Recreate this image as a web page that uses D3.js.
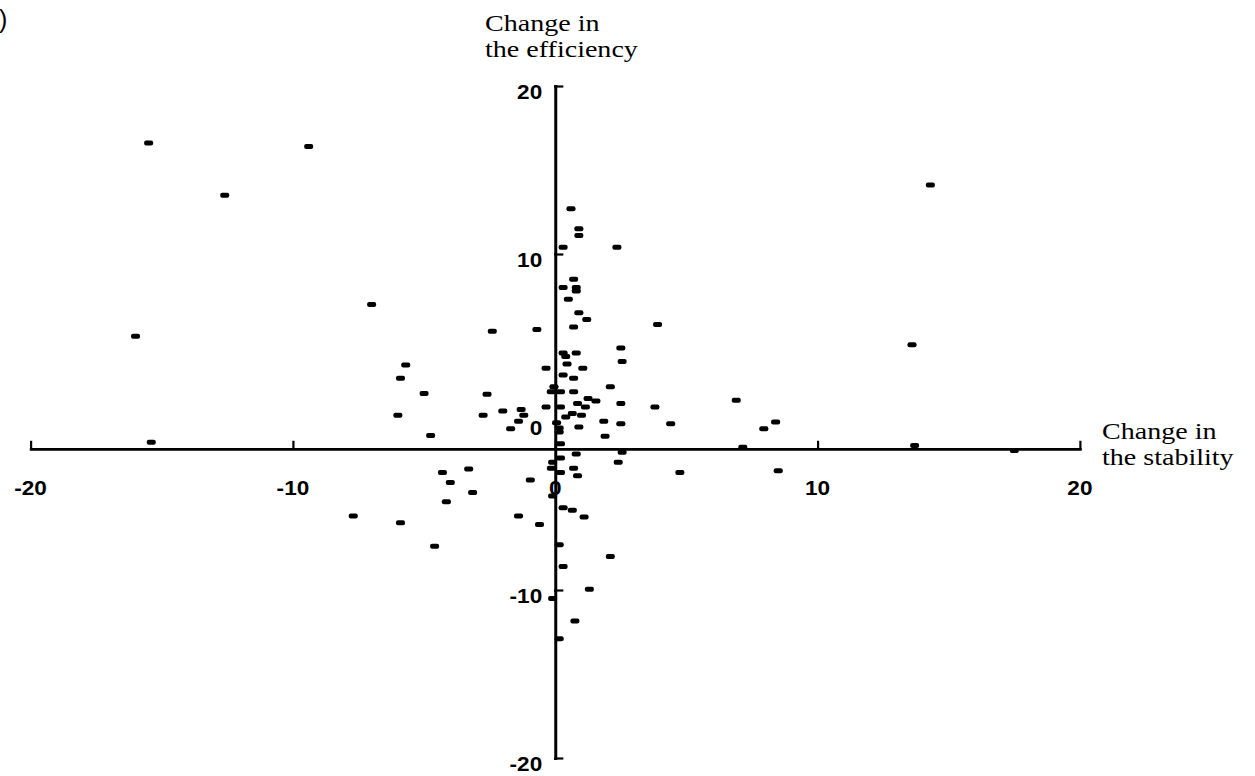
<!DOCTYPE html>
<meta charset="utf-8">
<style>

body {
  margin: 0;
  background: #fff;
}

.axis path, .axis line {
  fill: none;
  stroke: #000;
  stroke-linecap: square;
}

.tick-label {
  font-family: "Liberation Sans", Arial, sans-serif;
  font-weight: bold;
  font-size: 20px;
  fill: #000;
}

.title {
  font-family: "Liberation Serif", "Times New Roman", serif;
  font-size: 23px;
  fill: #000;
}

.point {
  fill: #000;
}

</style>
<body>
<script src="https://d3js.org/d3.v7.min.js"></script>
<script>

var width = 1255;
var height = 776;

// change in the stability (x) and in the efficiency (y), one entry per point
var stability = [
  -15.5, -9.4, -12.6, 14.3, -7.0, -16.0, -5.7, -5.9, -6.0, -15.4,
  -7.7, -5.9, -4.6, 13.6, 13.7, 17.5, 0.6, 0.9, 0.9, 2.35,
  0.3, 0.7, 0.3, 0.8, 0.8, 0.5, 0.9, 1.2, 3.9, -2.4,
  -0.7, 0.7, 2.5, 2.55, 0.3, 0.8, 0.4, 0.45, 1.05, -0.35,
  0.3, 0.7, 2.1, -0.05, -0.15, 0.2, 0.7, -5.0, -2.6, 1.25,
  1.55, 2.5, 0.85, 1.15, 3.8, 6.9, -0.35, 0.2, -2.0, -1.3,
  -1.2, -2.75, 0.65, 1.0, 0.4, -1.4, 1.85, 2.5, 4.4, 0.9,
  -1.7, 8.4, 7.95, 0.05, 0.15, 0.15, -4.75, 1.9, 0.2, 7.15,
  0.8, 2.55, 0.2, 2.4, -0.1, -4.3, -3.3, 0.7, -0.15, 0.2,
  -4.0, -0.95, 0.85, 4.75, 8.5, -3.15, -4.15, -0.1, 0.3, 0.65,
  -1.4, 1.1, -0.6, 0.15, 2.1, 0.3, 1.3, -0.1, 0.75, 0.15
];
var efficiency = [
  16.6, 16.4, 13.5, 14.1, 7.0, 5.1, 3.4, 2.6, 0.4, -1.2,
  -5.6, -6.0, -7.4, 4.6, -1.4, -1.7, 12.7, 11.5, 11.1, 10.4,
  10.4, 8.5, 8.0, 8.0, 7.8, 7.3, 6.5, 6.1, 5.8, 5.4,
  5.5, 5.65, 4.4, 3.6, 4.1, 4.1, 3.9, 3.45, 3.2, 3.2,
  2.8, 2.6, 2.1, 2.1, 1.8, 1.8, 1.8, 1.7, 1.65, 1.4,
  1.25, 1.1, 1.1, 0.9, 0.9, 1.3, 0.9, 0.9, 0.65, 0.75,
  0.4, 0.4, 0.5, 0.4, 0.3, 0.05, 0.05, -0.1, -0.1, -0.3,
  -0.4, 0.0, -0.4, -0.05, -0.35, -0.6, -0.8, -0.85, -1.3, -1.5,
  -1.9, -1.8, -2.15, -2.4, -2.4, -3.0, -2.8, -2.75, -2.75, -3.0,
  -3.6, -3.45, -3.2, -3.0, -2.9, -4.2, -4.75, -4.4, -5.1, -5.25,
  -5.6, -5.65, -6.1, -7.3, -8.0, -8.6, -9.95, -10.5, -11.85, -12.9
];

var xTicks = [-20, -10, 0, 10, 20];
var xTickLabels = ['-20', '-10', '0', '10', '20'];
var yTicks = [-20, -10, 0, 10, 20];
var yTickLabels = ['-20', '-10', '0', '10', '20'];
var xTitle = ['Change in', 'the stability'];
var yTitle = ['Change in', 'the efficiency'];

// the horizontal axis sits a little below y = 0 in the original
var xAxisAt = -1.6;

var svg = d3.select('body')
  .append('svg')
  .attr('width', width)
  .attr('height', height);

var x = d3.scaleLinear().domain([-20, 20]).range([30.6, 1079.9]);
var y = d3.scaleLinear().domain([-20, 20]).range([758, 86]);

// x axis, ticks pointing up
svg.append('g')
  .attr('class', 'axis')
  .attr('transform', 'translate(0,' + y(xAxisAt) + ')')
  .call(d3.axisTop(x).tickValues(xTicks).tickSize(7).tickSizeOuter(0).tickFormat(''))
  .call(g => g.select('.domain').attr('stroke-width', 2.6))
  .call(g => g.selectAll('.tick line').attr('stroke-width', 2.2));

// y axis, ticks pointing right
svg.append('g')
  .attr('class', 'axis')
  .attr('transform', 'translate(' + x(0) + ',0)')
  .call(d3.axisRight(y).tickValues(yTicks.filter(d => d !== 0)).tickSize(7).tickSizeOuter(0).tickFormat(''))
  .call(g => g.select('.domain').attr('stroke-width', 3))
  .call(g => g.selectAll('.tick line').attr('stroke-width', 2.2));

// the scanned lettering is wider than the fonts we have, so stretch it sideways
function stretchedText(sel, tx, ty, txt, cls, anchor, stretch) {
  return sel.append('text')
    .attr('class', cls)
    .attr('text-anchor', anchor)
    .attr('transform', 'translate(' + tx + ',' + ty + ') scale(' + stretch + ',1)')
    .text(txt);
}

// tick labels
xTicks.forEach((d, i) => {
  stretchedText(svg, x(d), y(xAxisAt) + 46, xTickLabels[i], 'tick-label', 'middle', 1.13);
});
yTicks.forEach((d, i) => {
  stretchedText(svg, x(0) - 13, y(d) + 13, yTickLabels[i], 'tick-label', 'end', 1.13);
});

// axis titles, two lines each
yTitle.forEach((t, i) => stretchedText(svg, 485, 31 + i * 26, t, 'title', 'start', 1.22));
xTitle.forEach((t, i) => stretchedText(svg, 1102, 439 + i * 26, t, 'title', 'start', 1.22));

// remnant of the panel letter at the left edge
svg.append('text')
  .attr('x', -1)
  .attr('y', 28)
  .style('font-family', '"Liberation Sans", Arial, sans-serif')
  .style('font-size', '25px')
  .text(')');

// points: short dashes
svg.selectAll('.point')
  .data(d3.range(stability.length))
  .enter()
  .append('rect')
  .attr('class', 'point')
  .attr('x', i => x(stability[i]) - 4.5)
  .attr('y', i => y(efficiency[i]) - 2.5)
  .attr('width', 9)
  .attr('height', 5)
  .attr('rx', 2);

</script>
</body>
</html>
